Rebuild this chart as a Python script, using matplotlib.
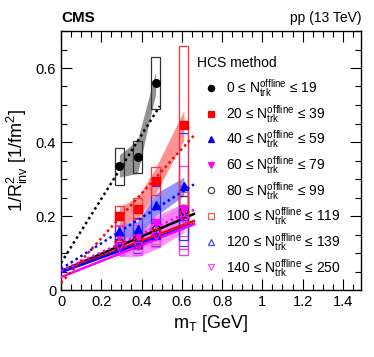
import matplotlib
matplotlib.use("Agg")
import matplotlib.pyplot as plt
from matplotlib.patches import Rectangle
from matplotlib.ticker import MultipleLocator
import numpy as np

plt.rcParams['font.family'] = ['Liberation Sans', 'DejaVu Sans']
plt.rcParams['mathtext.fontset'] = 'custom'
plt.rcParams['mathtext.rm'] = 'Liberation Sans'
plt.rcParams['mathtext.it'] = 'Liberation Sans:italic'
plt.rcParams['mathtext.bf'] = 'Liberation Sans:bold'

# ---------------- data ----------------
mT = [0.29, 0.38, 0.47, 0.61]
labels = ["0 \u2264 N$_{\\rm trk}^{\\rm offline}$ \u2264 19",
          "20 \u2264 N$_{\\rm trk}^{\\rm offline}$ \u2264 39",
          "40 \u2264 N$_{\\rm trk}^{\\rm offline}$ \u2264 59",
          "60 \u2264 N$_{\\rm trk}^{\\rm offline}$ \u2264 79",
          "80 \u2264 N$_{\\rm trk}^{\\rm offline}$ \u2264 99",
          "100 \u2264 N$_{\\rm trk}^{\\rm offline}$ \u2264 119",
          "120 \u2264 N$_{\\rm trk}^{\\rm offline}$ \u2264 139",
          "140 \u2264 N$_{\\rm trk}^{\\rm offline}$ \u2264 250"]

y0 = [0.335, 0.36, 0.56]
y1 = [0.20, 0.22, 0.295, 0.445]
y2 = [0.16, 0.165, 0.23, 0.28]
y3 = [0.145, 0.145, 0.18, 0.215]
y4 = [0.13, 0.14, 0.165, 0.215]
y5 = [0.125, 0.13, 0.155, 0.205]
y6 = [0.12, 0.125, 0.15, 0.20]
y7 = [0.115, 0.12, 0.145, 0.19]

syst0 = [0.05, 0.044, 0.07]
syst1 = [0.028, 0.028, 0.038, 0.215]
syst2 = [0.03, 0.03, 0.05, 0.145]
syst3 = [0.03, 0.03, 0.04, 0.12]
syst4 = [0.02, 0.02, 0.025, 0.04]
syst5 = [0.02, 0.02, 0.03, 0.06]
syst6 = [0.025, 0.025, 0.03, 0.08]
syst7 = [0.02, 0.025, 0.03, 0.08]

band0 = [0.03, 0.045, 0.03]
band1 = [0.025, 0.03, 0.035, 0.04]
band2 = [0.02, 0.02, 0.03, 0.025]
band3 = [0.02, 0.02, 0.02, 0.02]
band4 = [0.01, 0.015, 0.02, 0.02]
band5 = [0.012, 0.015, 0.02, 0.02]
band6 = [0.012, 0.015, 0.02, 0.02]
band7 = [0.025, 0.03, 0.035, 0.035]

# linear fits: intercept, slope, x range end
fit_icpt = [0.073, 0.019, 0.057, 0.052, 0.051, 0.050, 0.048, 0.035]
fit_slope = [0.865, 0.604, 0.346, 0.25, 0.234, 0.207, 0.198, 0.216]
fit_xmax = [0.49, 0.66, 0.66, 0.66, 0.66, 0.66, 0.66, 0.66]

ys = [y0, y1, y2, y3, y4, y5, y6, y7]
systs = [syst0, syst1, syst2, syst3, syst4, syst5, syst6, syst7]
bands = [band0, band1, band2, band3, band4, band5, band6, band7]

colors = ['black', 'red', 'blue', 'magenta', 'black', 'red', 'blue', 'magenta']
box_colors = ['#333333', '#ff3333', '#3333ff', '#ff33ff', '#333333', '#ff5555', '#4444ff', '#ff44ff']
band_colors = ['#808080', '#ff8080', '#8080ff', '#ff80ff', '#808080', '#ff9090', '#9090ff', '#ff80ff']
legend_colors = ['black', 'red', 'blue', 'magenta', '#444444', '#ff5555', '#4444ff', '#ff44ff']
markers = ['o', 's', '^', 'v', 'o', 's', '^', 'v']
filled = [True, True, True, True, False, False, False, False]
lstyles = [':', ':', ':', ':', '-', '-', '-', '-']

# ---------------- figure ----------------
fig = plt.figure(figsize=(3.74, 3.57), dpi=100)
ax = fig.add_axes([61/374, 1-290/357, 300/374, 259/357])
ax.set_xlim(0, 1.49)
ax.set_ylim(0, 0.7)

boxw = 0.045
order = [4, 5, 6, 7, 3, 2, 1, 0]
for i in order:
    x = np.array(mT[:len(ys[i])])
    y = np.array(ys[i])
    b = np.array(bands[i])
    ax.fill_between(x, y - b, y + b, color=band_colors[i], lw=0, alpha=0.85, zorder=1)

for i in order:
    x = mT[:len(ys[i])]
    for xx, yy, ss in zip(x, ys[i], systs[i]):
        ax.add_patch(Rectangle((xx - boxw/2, yy - ss), boxw, 2*ss, fill=False,
                               edgecolor=box_colors[i], lw=0.9, zorder=2))

for i in order:
    xl = np.array([0.0, fit_xmax[i]])
    if lstyles[i] == '-':
        ax.plot(xl, fit_icpt[i] + fit_slope[i]*xl, color=colors[i], ls='-', lw=1.8, zorder=3)
    else:
        ax.plot(xl, fit_icpt[i] + fit_slope[i]*xl, color=colors[i], ls=(0, (1, 1.3)),
                lw=1.8, zorder=3)

for i in order:
    x = mT[:len(ys[i])]
    ax.plot(x, ys[i], ls='none', marker=markers[i], ms=5.5,
            mfc=colors[i] if filled[i] else 'none', mec=colors[i], mew=1.0, zorder=4)

# ticks
ax.xaxis.set_major_locator(MultipleLocator(0.2))
ax.xaxis.set_minor_locator(MultipleLocator(0.05))
ax.yaxis.set_major_locator(MultipleLocator(0.2))
ax.yaxis.set_minor_locator(MultipleLocator(0.05))
ax.tick_params(which='both', direction='in', top=True, right=True, labelsize=10.5)
ax.tick_params(which='major', length=8, width=0.8)
ax.tick_params(which='minor', length=4, width=0.8)
ax.set_xticks([0, 0.2, 0.4, 0.6, 0.8, 1.0, 1.2, 1.4])
ax.set_xticklabels(['0', '0.2', '0.4', '0.6', '0.8', '1', '1.2', '1.4'])
ax.set_yticks([0, 0.2, 0.4, 0.6])
ax.set_yticklabels(['0', '0.2', '0.4', '0.6'])
for s in ax.spines.values():
    s.set_linewidth(1.0)

ax.set_xlabel("m$_{\\rm T}$ [GeV]", fontsize=13, labelpad=3)
ax.set_ylabel("1/R$^{2}_{\\rm inv}$ [1/fm$^{2}$]", fontsize=13, labelpad=4)

fig.text(61/374, 1-18/357, "CMS", fontsize=11, fontweight='bold', va='center', ha='left')
fig.text(361/374, 1-18/357, "pp (13 TeV)", fontsize=10, va='center', ha='right')

# legend (manual)
ax.text((197-61)/300, (290-63)/259, "HCS method", transform=ax.transAxes,
        fontsize=10, va='center', ha='left')
for k in range(8):
    py = 88 + 25.6*k
    yax = (290 - py)/259
    ax.plot([(211-61)/300], [yax], transform=ax.transAxes, ls='none', marker=markers[k],
            ms=4.5, mfc=legend_colors[k] if filled[k] else 'none', mec=legend_colors[k], mew=0.9,
            clip_on=False, zorder=5)
    ax.text((226-61)/300, yax - 5/259, labels[k], transform=ax.transAxes,
            fontsize=10, va='baseline', ha='left')

fig.savefig("out.png", dpi=100)
